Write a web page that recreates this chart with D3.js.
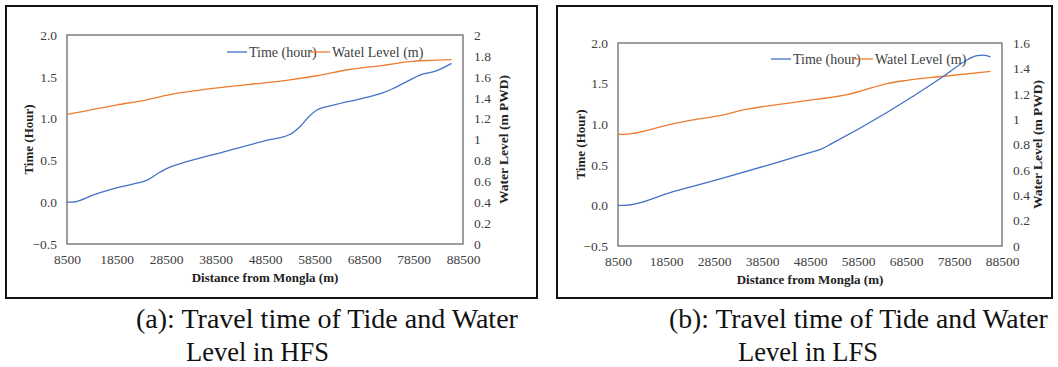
<!DOCTYPE html>
<html>
<head>
<meta charset="utf-8">
<script src="https://cdn.jsdelivr.net/npm/d3@7"></script>
</head>
<body style="margin:0; background:#fff">
<svg id="chart" width="1058" height="367"></svg>
<script>
// tick labels
var distTicks = [8500, 18500, 28500, 38500, 48500, 58500, 68500, 78500, 88500];
var timeTicks = [-0.5, 0, 0.5, 1.0, 1.5, 2.0];
var levelTicksA = [0, 0.2, 0.4, 0.6, 0.8, 1, 1.2, 1.4, 1.6, 1.8, 2];
var levelTicksB = [0, 0.2, 0.4, 0.6, 0.8, 1, 1.2, 1.4, 1.6];
var seriesNames = ["Time (hour)", "Watel Level (m)"];

// (a) HFS
var distTimeA = [8500, 9500, 14000, 18500, 22000, 24600, 27000, 29300, 31400, 40000, 48800, 53500, 55500, 57500, 58900, 62300, 68000, 72400, 74400, 77700, 79800, 83100, 86200];
var timeA     = [0.00, 0.00, 0.09, 0.17, 0.22, 0.26, 0.35, 0.42, 0.46, 0.60, 0.74, 0.81, 0.90, 1.03, 1.10, 1.16, 1.24, 1.31, 1.36, 1.46, 1.52, 1.57, 1.66];
var distLevelA = [8500, 18500, 24600, 29300, 35000, 45000, 53500, 58900, 65600, 72400, 77700, 81000, 86200];
var levelA     = [1.24, 1.33, 1.38, 1.43, 1.47, 1.525, 1.57, 1.61, 1.67, 1.71, 1.745, 1.756, 1.765];

// (b) LFS
var distTimeB = [8500, 9700, 20000, 30000, 40000, 47900, 50700, 53000, 76350, 81500, 83300, 84700, 86100];
var timeB     = [0.00, 0.00, 0.17, 0.33, 0.50, 0.64, 0.69, 0.76, 1.59, 1.80, 1.845, 1.85, 1.83];
var distLevelB = [8500, 9700, 20100, 25000, 29100, 35400, 40900, 50000, 56200, 59000, 64500, 68700, 76400, 86100];
var levelB     = [0.88, 0.88, 0.965, 1.00, 1.023, 1.078, 1.11, 1.157, 1.193, 1.22, 1.28, 1.306, 1.338, 1.377];

var blue = "#4472c4", orange = "#ed7d31", txt = "#404040";
var FONT = "Times New Roman";
var svg = d3.select("#chart");
svg.append("rect").attr("width", 1058).attr("height", 367).attr("fill", "#fff");

function addText(x, y, s, size) {
  return svg.append("text").attr("x", x).attr("y", y)
    .attr("font-family", FONT).attr("font-size", size).text(s);
}

// caption text squeezed to a given width (the original is a narrow Times)
function caption(x, y, s, width) {
  var t = svg.append("text").attr("font-family", FONT).attr("font-size", 28)
    .attr("fill", "#111").text(s);
  var k = width / t.node().getComputedTextLength();
  t.attr("transform", "translate(" + x + "," + y + ") scale(" + k + ",1)");
}

function drawPanel(p) {
  svg.append("rect")
    .attr("x", p.frame[0]).attr("y", p.frame[1])
    .attr("width", p.frame[2]).attr("height", p.frame[3])
    .attr("fill", "none").attr("stroke", "#111").attr("stroke-width", 2);

  var x = d3.scaleLinear().domain([8500, 88500]).range([p.left, p.right]);
  var yL = d3.scaleLinear().domain([-0.5, 2]).range([p.bottom, p.top]);
  var yR = d3.scaleLinear().domain([0, p.rmax]).range([p.bottom, p.top]);

  var gx = svg.append("g").attr("transform", "translate(0," + p.bottom + ")")
    .call(d3.axisBottom(x).tickValues(distTicks).tickSize(0).tickPadding(10).tickFormat(d3.format("d")));
  var gl = svg.append("g").attr("transform", "translate(" + p.left + ",0)")
    .call(d3.axisLeft(yL).tickValues(timeTicks).tickSize(0).tickPadding(10).tickFormat(d3.format(".1f")));
  var gr = svg.append("g").attr("transform", "translate(" + p.right + ",0)")
    .call(d3.axisRight(yR).tickValues(p.rticks).tickSize(0).tickPadding(11).tickFormat(function(d) { return String(+d.toFixed(1)); }));
  [gx, gl, gr].forEach(function(g) {
    g.attr("font-family", FONT).attr("font-size", 13.5);
    g.select(".domain").remove();
    g.selectAll("text").attr("fill", txt);
  });

  svg.append("rect")
    .attr("x", p.left).attr("y", p.top)
    .attr("width", p.right - p.left).attr("height", p.bottom - p.top)
    .attr("fill", "none").attr("stroke", "#6b6b6b").attr("stroke-width", 1.3);

  var lineT = d3.line().curve(d3.curveMonotoneX)
    .x(function(d) { return x(d[0]); }).y(function(d) { return yL(d[1]); });
  var lineW = d3.line().curve(d3.curveMonotoneX)
    .x(function(d) { return x(d[0]); }).y(function(d) { return yR(d[1]); });

  svg.append("path").datum(d3.zip(p.distW, p.level))
    .attr("d", lineW).attr("fill", "none").attr("stroke", orange).attr("stroke-width", 1.3);
  svg.append("path").datum(d3.zip(p.distT, p.time))
    .attr("d", lineT).attr("fill", "none").attr("stroke", blue).attr("stroke-width", 1.3);

  // legend
  var lg = p.legend;
  [[lg.x1, blue], [lg.x2, orange]].forEach(function(e, i) {
    svg.append("line").attr("x1", e[0]).attr("x2", e[0] + 20)
      .attr("y1", lg.y).attr("y2", lg.y).attr("stroke", e[1]).attr("stroke-width", 1.3);
    addText(e[0] + 22, lg.y + 4.5, seriesNames[i], 14).attr("fill", txt);
  });

  // axis titles
  addText((p.left + p.right) / 2, p.bottom + 38, "Distance from Mongla (m)", 13)
    .attr("text-anchor", "middle").attr("font-weight", "bold").attr("fill", "#222");
  addText(0, 0, "Time (Hour)", 13)
    .attr("transform", "translate(" + p.ltx + "," + (p.top + p.bottom) / 2 + ") rotate(-90)")
    .attr("text-anchor", "middle").attr("dy", "0.35em").attr("font-weight", "bold").attr("fill", "#222");
  addText(0, 0, "Water Level (m PWD)", 13.5)
    .attr("transform", "translate(" + p.rtx + "," + (p.top + p.bottom) / 2 + ") rotate(-90)")
    .attr("text-anchor", "middle").attr("dy", "0.35em").attr("font-weight", "bold").attr("fill", "#222");

  caption(p.cap[0], 328, p.caption[0], p.cap[1]);
  caption(p.cap[2], 361, p.caption[1], p.cap[3]);
}

drawPanel({
  frame: [6, 6, 531, 292],
  left: 67, right: 463, top: 35, bottom: 244,
  rmax: 2, rticks: levelTicksA,
  distT: distTimeA, time: timeA, distW: distLevelA, level: levelA,
  legend: { x1: 227, x2: 310, y: 52 },
  ltx: 28, rtx: 503,
  cap: [136, 382, 186, 143],
  caption: ["(a): Travel time of Tide and Water", "Level in HFS"]
});

drawPanel({
  frame: [557, 6, 495, 292],
  left: 618, right: 1002, top: 43, bottom: 246,
  rmax: 1.6, rticks: levelTicksB,
  distT: distTimeB, time: timeB, distW: distLevelB, level: levelB,
  legend: { x1: 771, x2: 853, y: 59 },
  ltx: 580, rtx: 1037,
  cap: [669, 379, 738, 140],
  caption: ["(b): Travel time of Tide and Water", "Level in LFS"]
});
</script>
</body>
</html>
